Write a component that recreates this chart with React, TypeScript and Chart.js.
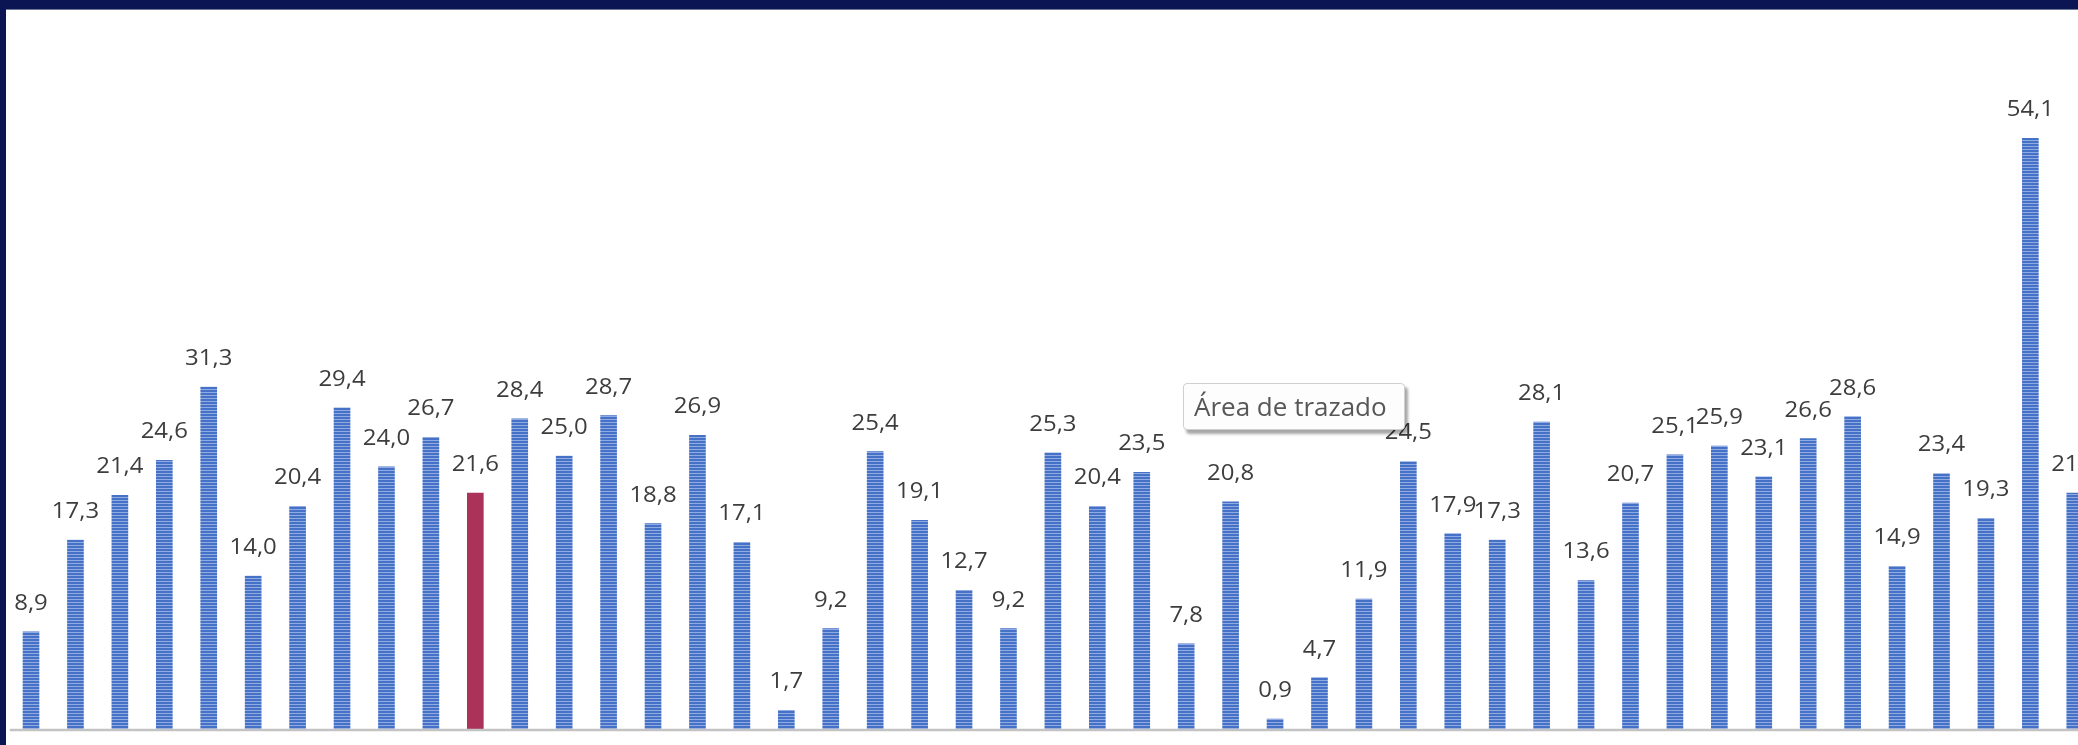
import React, { useEffect, useRef } from "react";
import { Chart, registerables } from "chart.js";

Chart.register(...registerables);

const categories = [
  "1", "2", "3", "4", "5", "6", "7", "8", "9", "10",
  "11", "12", "13", "14", "15", "16", "17", "18", "19", "20",
  "21", "22", "23", "24", "25", "26", "27", "28", "29", "30",
  "31", "32", "33", "34", "35", "36", "37", "38", "39", "40",
  "41", "42", "43", "44", "45", "46", "47",
];

const values = [
  8.9, 17.3, 21.4, 24.6, 31.3, 14.0, 20.4, 29.4, 24.0, 26.7,
  21.6, 28.4, 25.0, 28.7, 18.8, 26.9, 17.1, 1.7, 9.2, 25.4,
  19.1, 12.7, 9.2, 25.3, 20.4, 23.5, 7.8, 20.8, 0.9, 4.7,
  11.9, 24.5, 17.9, 17.3, 28.1, 13.6, 20.7, 25.1, 25.9, 23.1,
  26.6, 28.6, 14.9, 23.4, 19.3, 54.1, 21.6,
];

const highlightIndex = 10;
const tooltipText = "Área de trazado";

const fmt = (v: number) => v.toFixed(1).replace(".", ",");

export default function App() {
  const canvasRef = useRef<HTMLCanvasElement | null>(null);

  useEffect(() => {
    const canvas = canvasRef.current;
    if (!canvas) return;
    const ctx = canvas.getContext("2d")!;

    const pc = document.createElement("canvas");
    pc.width = 4;
    pc.height = 3;
    const p = pc.getContext("2d")!;
    p.fillStyle = "#4571c6";
    p.fillRect(0, 0, 4, 3);
    p.fillStyle = "#91abe2";
    p.fillRect(0, 2, 4, 1);
    const stripe = ctx.createPattern(pc, "repeat")!;

    const colors = values.map((_, i) => (i === highlightIndex ? "#ab3259" : stripe));

    const labelPlugin = {
      id: "valueLabels",
      afterDatasetsDraw(chart: any) {
        const c = chart.ctx;
        const meta = chart.getDatasetMeta(0);
        c.save();
        c.font = '21px "Open Sans"';
        c.fillStyle = "#3d3d3d";
        c.textAlign = "center";
        c.textBaseline = "alphabetic";
        meta.data.forEach((el: any, i: number) => {
          c.save();
          c.translate(el.x, el.y - 22);
          c.scale(1.14, 1);
          c.fillText(fmt(values[i]), 0, 0);
          c.restore();
        });
        c.restore();
      },
    };

    const baselinePlugin = {
      id: "baseline",
      afterDatasetsDraw(chart: any) {
        const c = chart.ctx;
        const a = chart.chartArea;
        c.save();
        c.strokeStyle = "#c3c3c3";
        c.lineWidth = 2.5;
        c.beginPath();
        c.moveTo(a.left + 1, a.bottom + 1);
        c.lineTo(a.right, a.bottom + 1);
        c.stroke();
        c.restore();
      },
    };

    const chart = new Chart(canvas, {
      type: "bar",
      data: {
        labels: categories,
        datasets: [
          {
            data: values,
            backgroundColor: colors as any,
            borderWidth: 0,
            barThickness: 16,
          },
        ],
      },
      options: {
        animation: false,
        responsive: false,
        maintainAspectRatio: false,
        devicePixelRatio: 1,
        layout: { padding: { left: 8.8, right: 3, top: 64.8, bottom: 16 } },
        plugins: {
          legend: { display: false },
          tooltip: { enabled: false },
        },
        scales: {
          x: { display: false, offset: true },
          y: { display: false, min: 0, max: 60 },
        },
      },
      plugins: [labelPlugin, baselinePlugin],
    });

    return () => chart.destroy();
  }, []);

  return (
    <div
      style={{
        position: "fixed",
        left: 0,
        top: 0,
        width: 2078,
        height: 745,
        overflow: "hidden",
        background: "#0c1553",
      }}
    >
      <div
        style={{
          position: "absolute",
          left: 6,
          top: 9,
          width: 2200,
          height: 800,
          background: "#ffffff",
          borderTop: "1px solid #6b7896",
        }}
      />
      <canvas
        ref={canvasRef}
        width={2100}
        height={736}
        style={{ position: "absolute", left: 0, top: 9, width: 2100, height: 736 }}
      />
      <div
        style={{
          position: "absolute",
          left: 1183,
          top: 383,
          width: 222,
          height: 47,
          boxSizing: "border-box",
          background: "#fdfdfd",
          border: "1px solid #cfcfcf",
          borderRadius: 4,
          boxShadow: "3px 4px 3px rgba(0,0,0,0.35)",
          fontFamily: '"Open Sans", sans-serif',
          fontSize: 26,
          color: "#575757",
          lineHeight: "45px",
          paddingLeft: 10,
          whiteSpace: "nowrap",
        }}
      >
        {tooltipText}
      </div>
    </div>
  );
}
